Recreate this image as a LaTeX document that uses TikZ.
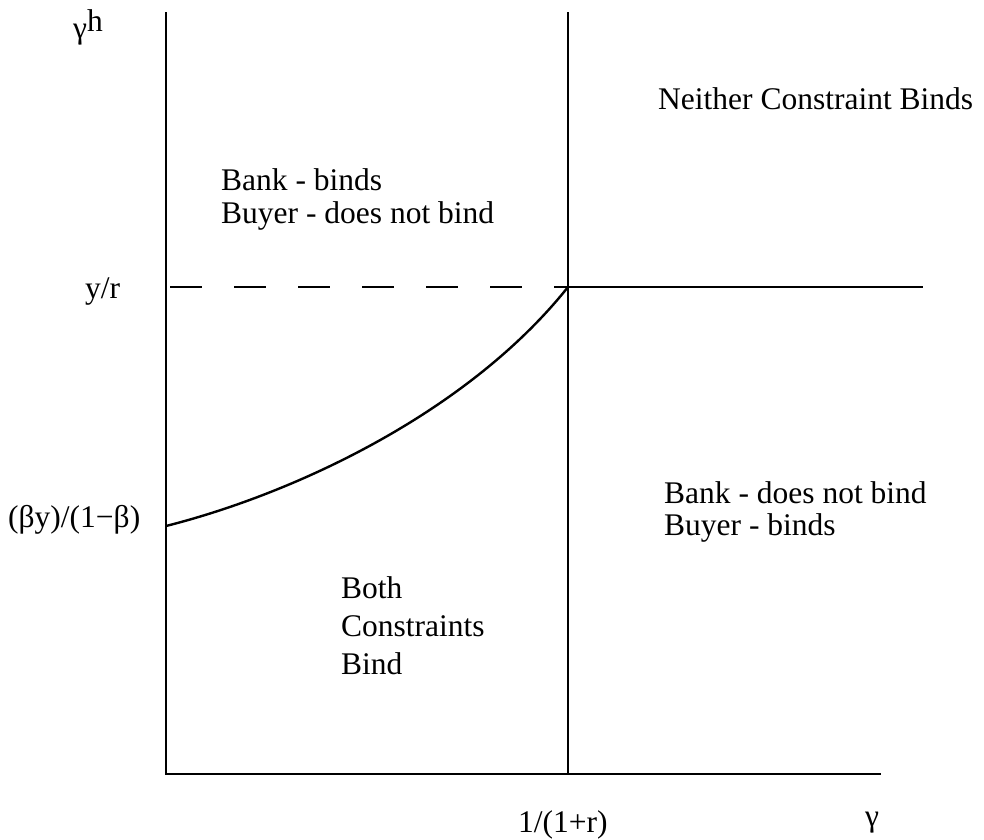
\documentclass[tikz,border=0pt]{standalone}
\usepackage{fontspec}
\setmainfont{Liberation Serif}
\begin{document}
\begin{tikzpicture}[x=1pt,y=-1pt,
  lbl/.style={anchor=base west,inner sep=0pt,font=\fontsize{31.5}{33}\selectfont},
  axisline/.style={line width=2.4pt,line cap=butt},
  dashline/.style={line width=2.4pt,dash pattern=on 32pt off 32pt}]
\useasboundingbox (0,0) rectangle (984,839);
% axes and dividers
\coordinate (top) at (166,12);
\coordinate (origin) at (166,774);
\coordinate (xend) at (881,774);
\coordinate (vtop) at (568,12);
\coordinate (vbot) at (568,774);
\coordinate (corner) at (568,287);
\coordinate (dstart) at (170,287);
\coordinate (hend) at (923,287);
\coordinate (cstart) at (166,526);
\draw[axisline] (top) -- (origin) -- (xend);
\draw[axisline] (vtop) -- (vbot);
\draw[dashline] (dstart) -- (corner);
\draw[axisline] (corner) -- (hend);
\draw[axisline] (cstart) .. controls (300,492) and (470,410) .. (corner);
% axis labels
\node[lbl] (ylab) at (73,38) {γ\raisebox{7pt}{h}};
\node[lbl] (xlab) at (865,826) {γ};
\node[lbl] (yr) at (85,298) {y/r};
\node[lbl] (by) at (8,527) {(βy)/(1−β)};
\node[lbl] (onr) at (518,832) {1/(1+r)};
% region labels
\node[lbl] (nei) at (658,109) {Neither Constraint Binds};
\node[lbl] (bb1) at (221,190) {Bank - binds};
\node[lbl] (bb2) at (221,223) {Buyer - does not bind};
\node[lbl] (bd1) at (664,503) {Bank - does not bind};
\node[lbl] (bd2) at (664,535) {Buyer - binds};
\node[lbl] (bc1) at (341,598) {Both};
\node[lbl] (bc2) at (341,636) {Constraints};
\node[lbl] (bc3) at (341,674) {Bind};
\end{tikzpicture}
\end{document}
